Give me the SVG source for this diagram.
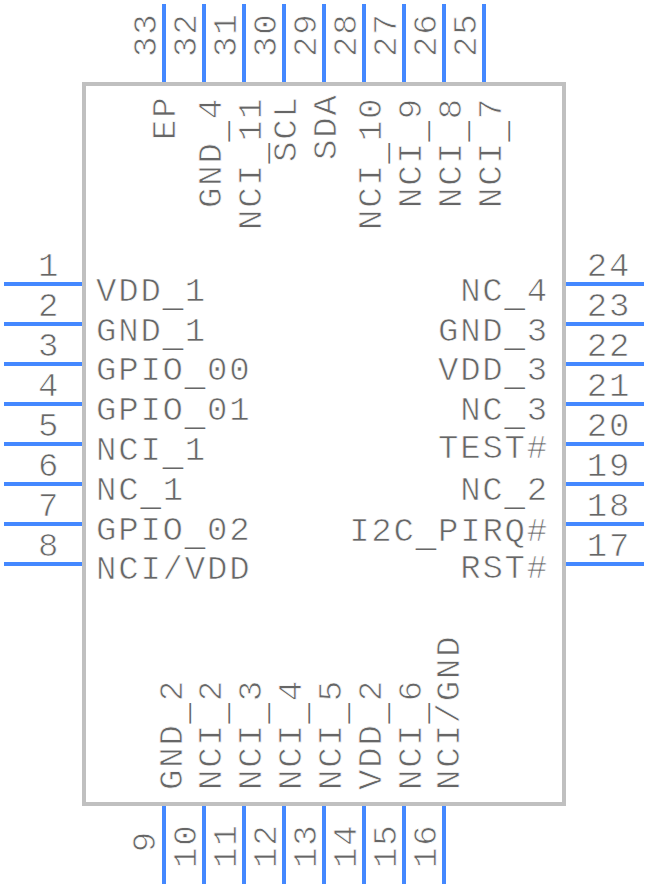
<svg xmlns="http://www.w3.org/2000/svg" width="648" height="888" viewBox="0 0 648 888" style="display:block">
<style>
text{font-family:"Liberation Mono",monospace;font-size:34px;letter-spacing:1.8px;fill:#666;stroke:#fff;stroke-width:.7px}
.u{stroke:none;fill:#666}
.e{text-anchor:end}.m{text-anchor:middle}
.p{stroke:#4488ff;stroke-width:4;fill:none}
.b{stroke:#c0c0c0;stroke-width:4;fill:#fff}
</style>
<rect width="648" height="888" fill="#fff"/>
<g id="connectors" class="p">
<path d="M4 284H82M4 324H82M4 364H82M4 404H82M4 444H82M4 484H82M4 524H82M4 564H82"/>
<path d="M566 284H644M566 324H644M566 364H644M566 404H644M566 444H644M566 484H644M566 524H644M566 564H644"/>
<path d="M164 4V82M204 4V82M244 4V82M284 4V82M324 4V82M364 4V82M404 4V82M444 4V82M484 4V82"/>
<path d="M164 806V884M204 806V884M244 806V884M284 806V884M324 806V884M364 806V884M404 806V884M444 806V884"/>
</g>
<g id="body"><rect class="b" x="84" y="84" width="480" height="720"/></g>
<g id="pin1"><text class="m" x="49" y="276">1</text><text x="96" y="301">VDD<tspan class="u" dy="5">_</tspan><tspan dy="-5">1</tspan></text></g>
<g id="pin2"><text class="m" x="49" y="316">2</text><text x="96" y="341">GND<tspan class="u" dy="5">_</tspan><tspan dy="-5">1</tspan></text></g>
<g id="pin3"><text class="m" x="49" y="356">3</text><text x="96" y="380">GPIO<tspan class="u" dy="5">_</tspan><tspan dy="-5">00</tspan></text></g>
<g id="pin4"><text class="m" x="49" y="396">4</text><text x="96" y="420">GPIO<tspan class="u" dy="5">_</tspan><tspan dy="-5">01</tspan></text></g>
<g id="pin5"><text class="m" x="49" y="436">5</text><text x="96" y="460">NCI<tspan class="u" dy="5">_</tspan><tspan dy="-5">1</tspan></text></g>
<g id="pin6"><text class="m" x="49" y="476">6</text><text x="96" y="500">NC<tspan class="u" dy="5">_</tspan><tspan dy="-5">1</tspan></text></g>
<g id="pin7"><text class="m" x="49" y="516">7</text><text x="96" y="540">GPIO<tspan class="u" dy="5">_</tspan><tspan dy="-5">02</tspan></text></g>
<g id="pin8"><text class="m" x="49" y="556">8</text><text x="96" y="579">NCI/VDD</text></g>
<g id="pin24"><text class="m" x="609" y="276">24</text><text class="e" x="549" y="301">NC<tspan class="u" dy="5">_</tspan><tspan dy="-5">4</tspan></text></g>
<g id="pin23"><text class="m" x="609" y="316">23</text><text class="e" x="549" y="341">GND<tspan class="u" dy="5">_</tspan><tspan dy="-5">3</tspan></text></g>
<g id="pin22"><text class="m" x="609" y="356">22</text><text class="e" x="549" y="380">VDD<tspan class="u" dy="5">_</tspan><tspan dy="-5">3</tspan></text></g>
<g id="pin21"><text class="m" x="609" y="396">21</text><text class="e" x="549" y="420">NC<tspan class="u" dy="5">_</tspan><tspan dy="-5">3</tspan></text></g>
<g id="pin20"><text class="m" x="609" y="436">20</text><text class="e" x="549" y="458">TEST#</text></g>
<g id="pin19"><text class="m" x="609" y="476">19</text><text class="e" x="549" y="500">NC<tspan class="u" dy="5">_</tspan><tspan dy="-5">2</tspan></text></g>
<g id="pin18"><text class="m" x="609" y="516">18</text><text class="e" x="549" y="541">I2C<tspan class="u" dy="5">_</tspan><tspan dy="-5">PIRQ#</tspan></text></g>
<g id="pin17"><text class="m" x="609" y="556">17</text><text class="e" x="549" y="578">RST#</text></g>
<g id="pin33"><text transform="translate(156 57) rotate(-90)">33</text><text transform="translate(175 140) rotate(-90)">EP</text></g>
<g id="pin32"><text transform="translate(196 57) rotate(-90)">32</text><text transform="translate(221 208) rotate(-90)">GND<tspan class="u" dy="5">_</tspan><tspan dy="-5">4</tspan></text></g>
<g id="pin31"><text transform="translate(236 57) rotate(-90)">31</text><text transform="translate(261 230) rotate(-90)">NCI<tspan class="u" dy="5">_</tspan><tspan dy="-5">11</tspan></text></g>
<g id="pin30"><text transform="translate(276 57) rotate(-90)">30</text><text transform="translate(296 162) rotate(-90)">SCL</text></g>
<g id="pin29"><text transform="translate(316 57) rotate(-90)">29</text><text transform="translate(336 160) rotate(-90)">SDA</text></g>
<g id="pin28"><text transform="translate(356 57) rotate(-90)">28</text><text transform="translate(381 230) rotate(-90)">NCI<tspan class="u" dy="5">_</tspan><tspan dy="-5">10</tspan></text></g>
<g id="pin27"><text transform="translate(396 57) rotate(-90)">27</text><text transform="translate(421 208) rotate(-90)">NCI<tspan class="u" dy="5">_</tspan><tspan dy="-5">9</tspan></text></g>
<g id="pin26"><text transform="translate(436 57) rotate(-90)">26</text><text transform="translate(461 208) rotate(-90)">NCI<tspan class="u" dy="5">_</tspan><tspan dy="-5">8</tspan></text></g>
<g id="pin25"><text transform="translate(476 57) rotate(-90)">25</text><text transform="translate(501 208) rotate(-90)">NCI<tspan class="u" dy="5">_</tspan><tspan dy="-5">7</tspan></text></g>
<g id="pin9"><text class="e" transform="translate(155 830) rotate(-90)">9</text><text transform="translate(182 790) rotate(-90)">GND<tspan class="u" dy="5">_</tspan><tspan dy="-5">2</tspan></text></g>
<g id="pin10"><text transform="translate(196 868) rotate(-90)">10</text><text transform="translate(221 790) rotate(-90)">NCI<tspan class="u" dy="5">_</tspan><tspan dy="-5">2</tspan></text></g>
<g id="pin11"><text transform="translate(236 868) rotate(-90)">11</text><text transform="translate(261 790) rotate(-90)">NCI<tspan class="u" dy="5">_</tspan><tspan dy="-5">3</tspan></text></g>
<g id="pin12"><text transform="translate(276 868) rotate(-90)">12</text><text transform="translate(301 790) rotate(-90)">NCI<tspan class="u" dy="5">_</tspan><tspan dy="-5">4</tspan></text></g>
<g id="pin13"><text transform="translate(316 868) rotate(-90)">13</text><text transform="translate(341 790) rotate(-90)">NCI<tspan class="u" dy="5">_</tspan><tspan dy="-5">5</tspan></text></g>
<g id="pin14"><text transform="translate(356 868) rotate(-90)">14</text><text transform="translate(381 790) rotate(-90)">VDD<tspan class="u" dy="5">_</tspan><tspan dy="-5">2</tspan></text></g>
<g id="pin15"><text transform="translate(396 868) rotate(-90)">15</text><text transform="translate(421 790) rotate(-90)">NCI<tspan class="u" dy="5">_</tspan><tspan dy="-5">6</tspan></text></g>
<g id="pin16"><text transform="translate(436 868) rotate(-90)">16</text><text transform="translate(459 790) rotate(-90)">NCI/GND</text></g>
</svg>
